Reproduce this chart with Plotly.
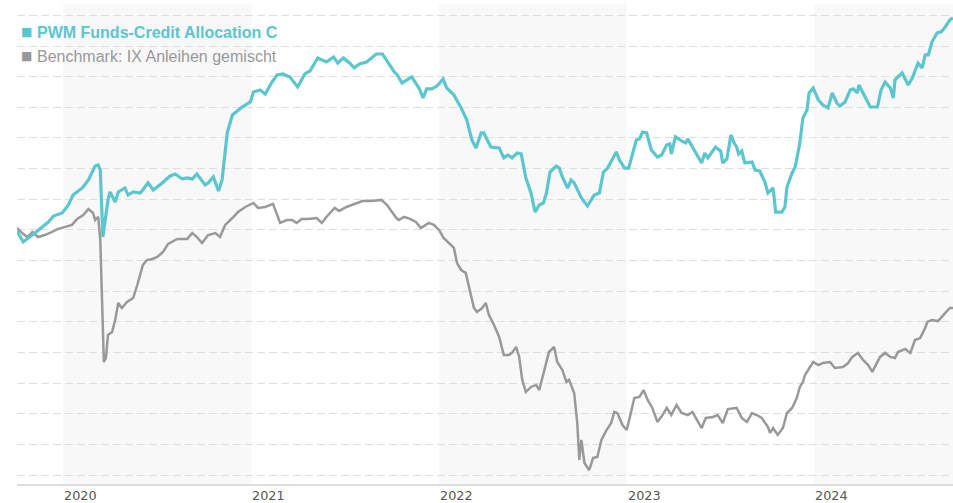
import plotly.graph_objects as go

# ---------------- data ----------------
fund_name = "PWM Funds-Credit Allocation C"
bench_name = "Benchmark: IX Anleihen gemischt"

fund_dates = [
    "2019-10-03", "2019-10-15", "2019-11-07", "2019-12-03", "2019-12-13", "2019-12-30",
    "2020-01-11", "2020-01-20", "2020-02-07", "2020-02-19", "2020-03-03", "2020-03-09",
    "2020-03-13", "2020-03-18", "2020-03-28", "2020-04-01", "2020-04-11", "2020-04-17",
    "2020-04-30", "2020-05-06", "2020-05-16", "2020-05-30", "2020-06-14", "2020-06-24",
    "2020-07-07", "2020-07-27", "2020-08-06", "2020-08-19", "2020-08-29", "2020-09-08",
    "2020-09-17", "2020-10-03", "2020-10-09", "2020-10-19", "2020-10-29", "2020-11-05",
    "2020-11-15", "2020-11-25", "2020-12-14", "2020-12-30", "2021-01-05", "2021-01-18",
    "2021-01-28", "2021-02-10", "2021-02-20", "2021-03-03", "2021-03-17", "2021-04-01",
    "2021-04-15", "2021-04-25", "2021-05-10", "2021-05-27", "2021-06-10", "2021-06-18",
    "2021-06-29", "2021-07-11", "2021-07-20", "2021-07-30", "2021-08-13", "2021-09-01",
    "2021-09-13", "2021-10-06", "2021-10-12", "2021-10-21", "2021-11-09", "2021-11-19",
    "2021-11-23", "2021-12-01", "2021-12-08", "2021-12-18", "2021-12-28", "2022-01-09",
    "2022-01-16", "2022-01-30", "2022-02-13", "2022-02-24", "2022-03-06", "2022-03-14",
    "2022-03-24", "2022-03-29", "2022-04-12", "2022-04-28", "2022-05-07", "2022-05-15",
    "2022-05-23", "2022-06-02", "2022-06-10", "2022-06-19", "2022-06-29", "2022-07-07",
    "2022-07-15", "2022-07-23", "2022-07-29", "2022-08-05", "2022-08-17", "2022-08-23",
    "2022-08-29", "2022-09-08", "2022-09-15", "2022-09-21", "2022-10-05", "2022-10-17",
    "2022-10-30", "2022-11-09", "2022-11-17", "2022-11-25", "2022-12-12", "2022-12-18",
    "2022-12-28", "2023-01-05", "2023-01-20", "2023-01-26", "2023-02-01", "2023-02-09",
    "2023-02-18", "2023-03-02", "2023-03-10", "2023-03-20", "2023-03-26", "2023-03-29",
    "2023-04-06", "2023-04-18", "2023-04-26", "2023-04-30", "2023-05-13", "2023-05-27",
    "2023-06-02", "2023-06-08", "2023-06-23", "2023-07-03", "2023-07-07", "2023-07-15",
    "2023-07-23", "2023-07-29", "2023-08-03", "2023-08-07", "2023-08-13", "2023-08-19",
    "2023-09-02", "2023-09-08", "2023-09-17", "2023-09-27", "2023-10-03", "2023-10-13",
    "2023-10-18", "2023-10-30", "2023-11-05", "2023-11-09", "2023-11-19", "2023-11-25",
    "2023-12-04", "2023-12-10", "2023-12-18", "2023-12-22", "2023-12-30", "2024-01-09",
    "2024-01-18", "2024-01-28", "2024-02-05", "2024-02-14", "2024-02-20", "2024-03-01",
    "2024-03-11", "2024-03-17", "2024-03-25", "2024-03-28", "2024-04-05", "2024-04-19",
    "2024-05-03", "2024-05-10", "2024-05-18", "2024-05-28", "2024-06-03", "2024-06-06",
    "2024-06-12", "2024-06-20", "2024-07-02", "2024-07-10", "2024-07-21", "2024-07-29",
    "2024-08-04", "2024-08-10", "2024-08-17", "2024-08-27", "2024-09-04", "2024-09-12",
    "2024-09-21", "2024-09-27",
]
fund_values = [
    -0.07, -0.78, -0.20, 0.52, 0.91, 1.11,
    1.63, 2.28, 2.74, 3.26, 4.17, 4.24,
    3.91, -0.46, 1.96, 2.48, 1.83, 2.48,
    2.74, 2.28, 2.48, 2.41, 3.07, 2.61,
    2.94, 3.52, 3.65, 3.33, 3.39, 3.33,
    3.65, 2.94, 3.07, 3.46, 2.54, 3.26,
    6.33, 7.50, 8.02, 8.35, 9.00, 9.13,
    8.87, 9.65, 10.11, 10.18, 9.98, 9.33,
    10.18, 10.37, 11.22, 10.96, 11.29, 10.89,
    11.22, 10.89, 10.57, 10.83, 10.96, 11.48,
    11.48, 10.31, 10.11, 9.59, 9.98, 9.46,
    9.26, 8.61, 9.20, 9.20, 9.39, 9.85,
    9.26, 8.81, 7.96, 7.18, 5.87, 5.35,
    6.33, 6.33, 5.41, 5.35, 4.70, 4.89,
    4.70, 5.02, 4.96, 3.39, 2.41, 1.17,
    1.63, 1.76, 2.41, 3.78, 4.17, 4.04,
    3.46, 2.74, 3.26, 3.07, 2.09, 1.57,
    2.28, 2.41, 3.78, 4.04, 5.09, 4.57,
    4.04, 4.04, 5.87, 5.94, 6.39, 6.33,
    5.22, 4.76, 4.89, 5.54, 5.61, 4.96,
    6.07, 5.81, 5.68, 5.94, 5.22, 4.37,
    5.02, 4.70, 5.41, 5.15, 4.37, 4.63,
    6.20, 5.68, 5.41, 4.96, 5.15, 4.37,
    4.44, 3.91, 3.85, 3.13, 2.41, 2.74,
    1.17, 1.17, 1.50, 2.80, 3.72, 4.11,
    5.68, 7.31, 7.83, 8.94, 9.26, 8.48,
    8.15, 7.96, 8.94, 8.28, 8.09, 8.35,
    9.13, 9.20, 8.94, 9.46, 8.94, 8.02,
    8.02, 9.13, 9.65, 9.26, 8.61, 9.78,
    9.98, 10.24, 9.46, 9.92, 10.89, 10.57,
    11.42, 11.42, 12.26, 12.85, 12.92, 13.24,
    13.70, 13.83,
]

bench_dates = [
    "2019-10-03", "2019-10-13", "2019-10-23", "2019-11-02", "2019-11-13", "2019-11-26",
    "2019-12-10", "2019-12-22", "2020-01-05", "2020-01-18", "2020-01-28", "2020-02-09",
    "2020-02-19", "2020-02-28", "2020-03-03", "2020-03-09", "2020-03-13", "2020-03-17",
    "2020-03-20", "2020-03-24", "2020-03-28", "2020-04-05", "2020-04-11", "2020-04-17",
    "2020-04-24", "2020-05-04", "2020-05-16", "2020-05-24", "2020-06-04", "2020-06-12",
    "2020-06-22", "2020-07-02", "2020-07-13", "2020-07-23", "2020-08-10", "2020-08-29",
    "2020-09-08", "2020-09-17", "2020-09-27", "2020-10-09", "2020-10-23", "2020-11-01",
    "2020-11-11", "2020-11-25", "2020-12-06", "2020-12-20", "2021-01-05", "2021-01-14",
    "2021-01-28", "2021-02-12", "2021-02-26", "2021-03-11", "2021-03-21", "2021-03-30",
    "2021-04-09", "2021-04-21", "2021-05-08", "2021-05-18", "2021-05-27", "2021-06-12",
    "2021-06-21", "2021-07-05", "2021-07-20", "2021-08-05", "2021-08-22", "2021-09-11",
    "2021-09-22", "2021-10-10", "2021-10-15", "2021-10-25", "2021-11-06", "2021-11-17",
    "2021-11-27", "2021-12-12", "2021-12-22", "2022-01-01", "2022-01-10", "2022-01-20",
    "2022-01-30", "2022-02-05", "2022-02-13", "2022-02-22", "2022-03-04", "2022-03-10",
    "2022-03-16", "2022-03-26", "2022-04-02", "2022-04-08", "2022-04-18", "2022-04-28",
    "2022-05-07", "2022-05-17", "2022-05-23", "2022-05-31", "2022-06-06", "2022-06-12",
    "2022-06-19", "2022-06-29", "2022-07-09", "2022-07-15", "2022-07-25", "2022-08-03",
    "2022-08-13", "2022-08-19", "2022-08-29", "2022-09-06", "2022-09-11", "2022-09-21",
    "2022-09-27", "2022-10-01", "2022-10-05", "2022-10-11", "2022-10-20", "2022-10-28",
    "2022-11-05", "2022-11-13", "2022-11-23", "2022-12-02", "2022-12-08", "2022-12-14",
    "2022-12-24", "2023-01-01", "2023-01-07", "2023-01-16", "2023-01-26", "2023-02-03",
    "2023-02-11", "2023-02-20", "2023-03-02", "2023-03-12", "2023-03-20", "2023-03-29",
    "2023-04-08", "2023-04-18", "2023-04-30", "2023-05-09", "2023-05-27", "2023-06-04",
    "2023-06-18", "2023-06-27", "2023-07-07", "2023-07-17", "2023-08-03", "2023-08-13",
    "2023-08-23", "2023-09-02", "2023-09-11", "2023-09-21", "2023-10-03", "2023-10-07",
    "2023-10-13", "2023-10-22", "2023-11-01", "2023-11-09", "2023-11-19", "2023-11-28",
    "2023-12-04", "2023-12-10", "2023-12-14", "2023-12-24", "2023-12-30", "2024-01-09",
    "2024-01-18", "2024-02-01", "2024-02-10", "2024-02-26", "2024-03-07", "2024-03-15",
    "2024-03-26", "2024-04-05", "2024-04-15", "2024-04-23", "2024-04-29", "2024-05-08",
    "2024-05-18", "2024-05-28", "2024-06-06", "2024-06-12", "2024-06-26", "2024-07-06",
    "2024-07-15", "2024-07-25", "2024-08-04", "2024-08-08", "2024-08-17", "2024-08-29",
    "2024-09-12", "2024-09-21", "2024-09-27",
]
bench_values = [
    0.13, -0.20, -0.46, -0.13, -0.46, -0.33,
    -0.13, 0.07, 0.20, 0.33, 0.72, 0.98,
    1.37, 1.11, 0.65, 0.85, -0.65, -4.57,
    -8.61, -8.35, -6.85, -6.65, -5.87, -4.76,
    -5.09, -4.70, -4.44, -3.59, -2.28, -1.96,
    -1.89, -1.76, -1.44, -0.91, -0.59, -0.59,
    -0.20, -0.46, -0.85, -0.33, -0.20, -0.46,
    0.33, 0.78, 1.17, 1.50, 1.76, 1.44,
    1.50, 1.70, 0.46, 0.65, 0.65, 0.46,
    0.72, 0.72, 0.78, 0.46, 0.85, 1.44,
    1.24, 1.50, 1.70, 1.89, 1.89, 1.96,
    1.63, 0.78, 0.65, 0.85, 0.72, 0.52,
    0.13, 0.46, 0.33, 0.00, -0.52, -0.85,
    -1.17, -2.15, -2.61, -2.80, -4.11, -5.09,
    -5.35, -5.09, -4.76, -5.54, -6.20, -6.98,
    -8.15, -8.15, -8.02, -7.63, -8.28, -9.78,
    -10.57, -10.24, -10.11, -10.44, -9.13, -7.96,
    -7.63, -8.61, -9.13, -9.92, -9.78, -10.63,
    -12.59, -15.00, -13.70, -15.20, -15.66, -14.87,
    -14.81, -13.70, -13.05, -12.59, -11.87, -11.94,
    -12.72, -13.05, -12.26, -10.96, -10.89, -10.44,
    -11.09, -11.61, -12.52, -12.07, -11.61, -12.07,
    -11.42, -11.94, -12.07, -11.87, -12.92, -12.26,
    -12.20, -12.07, -12.59, -11.68, -11.61, -12.26,
    -12.52, -11.94, -12.07, -12.26, -12.85, -13.24,
    -12.92, -13.37, -12.92, -11.94, -11.61, -10.96,
    -10.24, -9.92, -9.46, -8.94, -8.61, -8.81,
    -8.68, -8.61, -9.00, -8.94, -8.68, -8.28,
    -8.02, -8.48, -8.81, -9.26, -8.87, -8.28,
    -8.02, -8.28, -8.35, -7.96, -7.76, -8.02,
    -7.18, -7.05, -6.39, -6.00, -5.87, -5.94,
    -5.41, -5.09, -5.09,
]

year_labels = ["2020", "2021", "2022", "2023", "2024"]
shaded_years = ["2020", "2022", "2024"]

x_range = ["2019-10-03", "2024-09-27"]
y_range = [-16.57, 14.74]

# ---------------- styles ----------------
TEAL = "#5bc6ce"
GREY = "#999999"

fig = go.Figure()

fig.add_trace(go.Scatter(
    x=bench_dates, y=bench_values, mode="lines", name=bench_name,
    line=dict(color=GREY, width=2.5), hoverinfo="skip", showlegend=False,
))
fig.add_trace(go.Scatter(
    x=fund_dates, y=fund_values, mode="lines", name=fund_name,
    line=dict(color=TEAL, width=3.2), hoverinfo="skip", showlegend=False,
))

# alternating year bands
for yr in shaded_years:
    fig.add_shape(
        type="rect", xref="x", yref="paper",
        x0=f"{yr}-01-01", x1=f"{int(yr) + 1}-01-01", y0=0, y1=1,
        fillcolor="#f8f8f8", line=dict(width=0), layer="below",
    )

# year labels left-aligned at start of each year
for yr in year_labels:
    fig.add_annotation(
        x=f"{yr}-01-01", xref="x", y=0, yref="paper",
        text=yr, showarrow=False, xanchor="left", yanchor="top",
        xshift=-1, yshift=-2,
        font=dict(family="DejaVu Sans, Verdana, sans-serif", size=12.8, color="#555555"),
    )

# legend (custom)
legend_items = [(fund_name, TEAL, True), (bench_name, GREY, False)]
for i, (name, col, bold) in enumerate(legend_items):
    ypix = 28 + i * 24  # from top of plot area
    fig.add_annotation(
        x=0.0025, xref="paper", y=1 - ypix / 480, yref="paper",
        text="■", showarrow=False, xanchor="left", yanchor="middle",
        font=dict(family="DejaVu Sans", size=12, color=col),
    )
    fig.add_annotation(
        x=0.0195, xref="paper", y=1 - ypix / 480, yref="paper",
        text=(f"<b>{name}</b>" if bold else name), showarrow=False,
        xanchor="left", yanchor="middle",
        font=dict(family="Liberation Sans, Arial, sans-serif", size=16, color=col),
    )

fig.update_layout(
    width=953, height=503,
    margin=dict(l=17, r=0, t=4, b=19),
    paper_bgcolor="white", plot_bgcolor="white",
    showlegend=False,
    xaxis=dict(
        type="date", range=x_range, showgrid=False, zeroline=False,
        showticklabels=False, ticks="",
        showline=True, linecolor="#dddddd", linewidth=1.5,
        fixedrange=True,
    ),
    yaxis=dict(
        range=y_range, tick0=0, dtick=2, showgrid=True,
        gridcolor="#dedede", gridwidth=1, griddash="8px,4px",
        zeroline=False, showticklabels=False, ticks="", showline=False,
        fixedrange=True,
    ),
)

fig.write_html(
    "out.html",
    config={"displayModeBar": False, "staticPlot": True},
    post_script="document.body.style.margin='0';document.body.style.overflow='hidden';",
)
